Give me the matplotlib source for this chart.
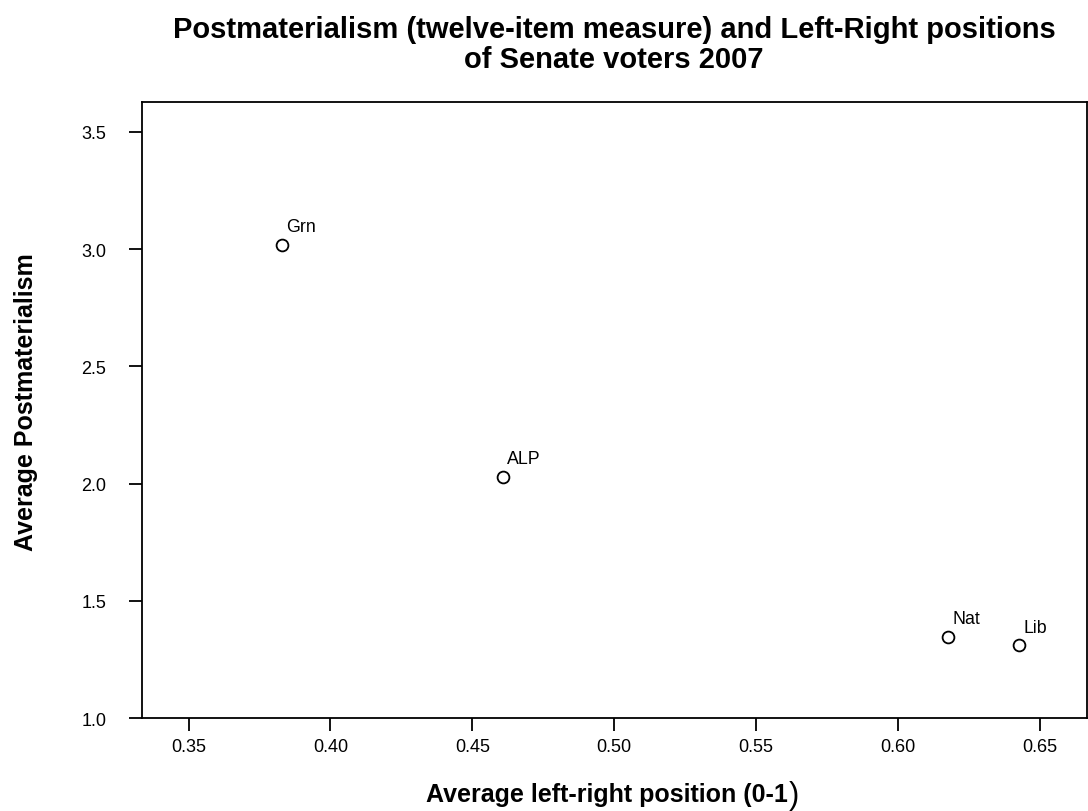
import matplotlib
matplotlib.use("Agg")
import matplotlib.pyplot as plt

plt.rcParams['font.family'] = ['Liberation Sans', 'DejaVu Sans']

# Data
parties = ["Grn", "ALP", "Nat", "Lib"]
left_right = [0.3829, 0.4609, 0.6176, 0.6426]
postmat = [3.019, 2.030, 1.348, 1.312]
x_ticks = [0.35, 0.40, 0.45, 0.50, 0.55, 0.60, 0.65]
y_ticks = [1.0, 1.5, 2.0, 2.5, 3.0, 3.5]
title_lines = ["Postmaterialism (twelve-item measure) and Left-Right positions",
               "of Senate voters 2007"]

W, H = 1088, 812
fig = plt.figure(figsize=(W / 100, H / 100), dpi=100)
ax = fig.add_axes([141.7 / W, 92.7 / H, 945.0 / W, 616.3 / H])

ax.plot(left_right, postmat, 'o', mfc='none', mec='black', ms=8.5, mew=1.3)
for name, x, y in zip(parties, left_right, postmat):
    ax.annotate(name, (x, y), xytext=(3.0, 9.6), textcoords='offset points',
                ha='left', va='baseline', fontsize=12.8)

ax.set_xlim(0.3335, 0.6665)
ax.set_ylim(1.0, 3.627)
ax.set_xticks(x_ticks)
ax.set_xticklabels(["%.2f" % v for v in x_ticks])
ax.set_yticks(y_ticks)
ax.set_yticklabels(["%.1f" % v for v in y_ticks])
ax.tick_params(axis='both', labelsize=13, length=9.5, width=1.3, direction='out')
ax.tick_params(axis='x', pad=4.5)
ax.tick_params(axis='y', pad=16)
for s in ax.spines.values():
    s.set_linewidth(1.3)

cx = (141.7 + 945.0 / 2) / W
fig.text(cx, 1 - 38.5 / H, title_lines[0], ha='center', va='baseline',
         fontsize=21, fontweight='bold')
fig.text(cx, 1 - 67.5 / H, title_lines[1], ha='center', va='baseline',
         fontsize=21, fontweight='bold')

fig.text(33 / W, 1 - 402 / H, "Average Postmaterialism", rotation=90,
         rotation_mode='anchor', ha='center', va='baseline',
         fontsize=18, fontweight='bold')

xl = fig.text(cx - 7 / W, 1 - 802 / H, "Average left-right position (0-1", ha='center',
              va='baseline', fontsize=18, fontweight='bold')
fig.canvas.draw()
bb = xl.get_window_extent()
fig.text(bb.x1 / W + 1 / W, 1 - 804 / H, ")", ha='left', va='baseline',
         fontsize=22, fontweight='normal')

plt.savefig("out.png", dpi=100)
